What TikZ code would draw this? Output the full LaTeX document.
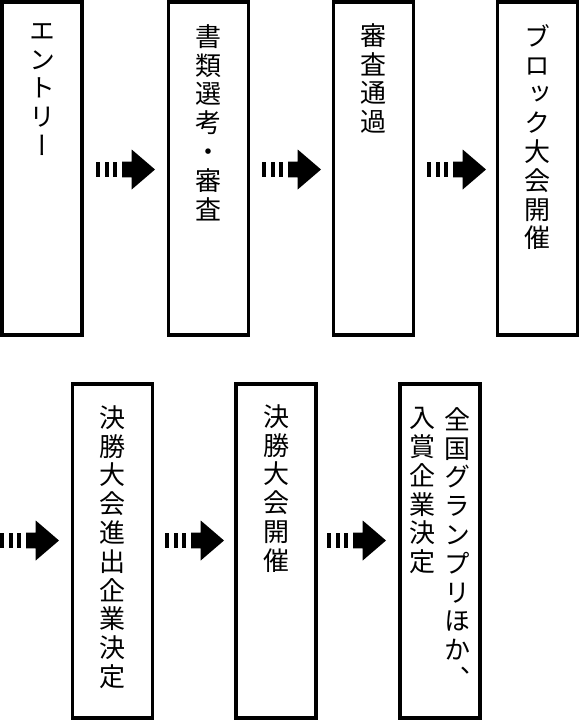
\documentclass[tikz,border=0pt]{standalone}
\usepackage{fontspec}
\newfontfamily\jp[RawFeature=+vert]{Noto Sans CJK JP}
\usetikzlibrary{calc}
\tikzset{
  stagebox/.style={draw, line width=3.5pt, minimum width=80pt, inner sep=0pt, fill=white},
  rowone/.style={minimum height=333pt},
  rowtwo/.style={minimum height=334pt},
  vlabel/.style={anchor=north, inner sep=0pt, align=center, font=\jp\fontsize{26pt}{28.8pt}\selectfont},
  stripearrow/.pic={
    \fill (0,-7.8) rectangle (4,7.8);
    \fill (8.7,-7.8) rectangle (12.7,7.8);
    \fill (17.3,-7.8) rectangle (21.3,7.8);
    \fill (26,-7.8) -- (35.7,-7.8) -- (35.7,-20) -- (59,0) -- (35.7,20) -- (35.7,7.8) -- (26,7.8) -- cycle;
  }
}
\begin{document}
\begin{tikzpicture}[x=1pt, y=-1pt]
\useasboundingbox (0,0) rectangle (581,721);
% row 1
\node[stagebox, rowone] (b1) at (42,168.5) {};
\node[stagebox, rowone] (b2) at (208.5,168.5) {};
\node[stagebox, rowone] (b3) at (373.5,168.5) {};
\node[stagebox, rowone] (b4) at (537.7,168.5) {};
% row 2
\node[stagebox, rowtwo] (b5) at (112.5,551) {};
\node[stagebox, rowtwo] (b6) at (276,551) {};
\node[stagebox, rowtwo] (b7) at (440,551) {};
% texts
\node[vlabel] (t1) at ($(b1.north)+(0,23)$) {エ\\ン\\ト\\リ\\ー};
\node[vlabel] (t2) at ($(b2.north)+(0,24)$) {書\\類\\選\\考\\・\\審\\査};
\node[vlabel] (t3) at ($(b3.north)+(0,23)$) {審\\査\\通\\過};
\node[vlabel] (t4) at ($(b4.north)+(0,24)$) {ブ\\ロ\\ッ\\ク\\大\\会\\開\\催};
\node[vlabel] (t5) at ($(b5.north)+(0,23)$) {決\\勝\\大\\会\\進\\出\\企\\業\\決\\定};
\node[vlabel] (t6) at ($(b6.north)+(0,22)$) {決\\勝\\大\\会\\開\\催};
\node[vlabel] (t7a) at ($(b7.north)+(17.5,25)$) {全\\国\\グ\\ラ\\ン\\プ\\リ\\ほ\\か\\、};
\node[vlabel] (t7b) at ($(b7.north)+(-17.5,25)$) {入\\賞\\企\\業\\決\\定};
% arrows
\pic at (96,169.5) {stripearrow};
\pic at (262,169.5) {stripearrow};
\pic at (427,169.5) {stripearrow};
\pic at (0,540.5) {stripearrow};
\pic at (165,540.5) {stripearrow};
\pic at (327,540.5) {stripearrow};
\end{tikzpicture}
\end{document}
